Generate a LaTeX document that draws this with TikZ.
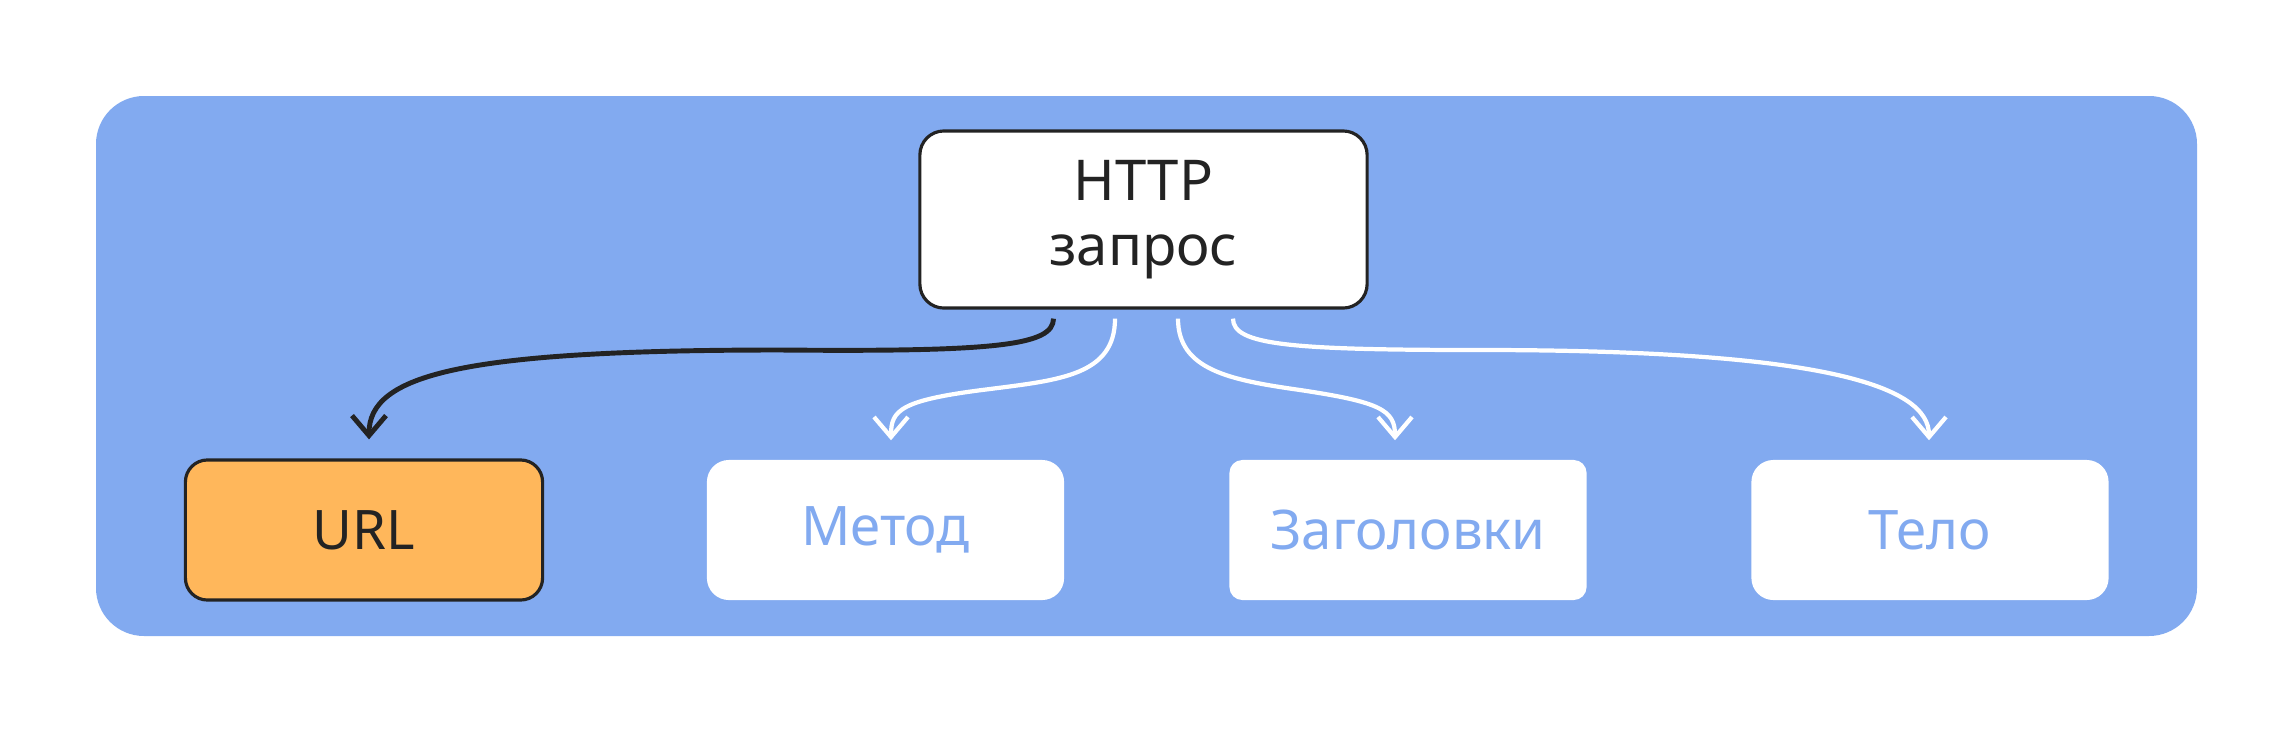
\documentclass[tikz,border=0pt]{standalone}
\usepackage{fontspec}
\setmainfont{Noto Sans}
\usetikzlibrary{arrows.meta,calc}
\definecolor{panelblue}{HTML}{82AAF0}
\definecolor{urlorange}{HTML}{FFB75B}
\definecolor{inkdark}{HTML}{232323}

\begin{document}
\begin{tikzpicture}[x=0.01cm,y=-0.01cm,
    part/.style={rounded corners=0.22cm,fill=white,text=panelblue,
        minimum width=3.57cm,minimum height=1.4cm,inner sep=0pt,
        font=\fontsize{15.5}{19}\selectfont},
    link/.style={line width=1.2pt,white,
        -{Straight Barb[length=0.2cm,width=0.34cm]}}]
\useasboundingbox (0,0) rectangle (2293,733);
\fill[white] (0,0) rectangle (2293,733);
\fill[panelblue,rounded corners=0.48cm] (96,96) rectangle (2197,636);

\node [draw=inkdark,line width=0.9pt,fill=white,rounded corners=0.24cm,
    minimum width=4.47cm,minimum height=1.77cm,align=center,text=inkdark,
    font=\fontsize{16}{18.5}\selectfont] (http) at (1143.5,219.5) {HTTP\\запрос};

\node [part,draw=inkdark,line width=0.9pt,fill=urlorange,text=inkdark] (url) at (364,530) {URL};
\node [part] (method)  at (885.5,530) {Метод};
\node [part,rounded corners=0.13cm] (headers) at (1408,530) {Заголовки};
\node [part] (body)    at (1930,530) {Тело};

\draw [link,inkdark,line width=1.4pt] ($(http.south)+(-90,9)$)
    .. controls (1053,345) and (1000,352) .. (780,350)
    .. controls (460,350) and (369,375) .. ($(url.north)+(5,-19)$);
\draw [link] ($(http.south)+(-28.5,9)$)
    .. controls (1115,375) and (1060,380) .. (990,389)
    .. controls (900,400) and (891,410) .. ($(method.north)+(5.5,-19)$);
\draw [link] ($(http.south)+(34.5,9)$)
    .. controls (1178,370) and (1230,380) .. (1300,390)
    .. controls (1380,402) and (1395,410) .. ($(headers.north)+(-13,-19)$);
\draw [link] ($(http.south)+(89.5,9)$)
    .. controls (1233,345) and (1290,350) .. (1480,350)
    .. controls (1820,350) and (1929,385) .. ($(body.north)+(-1,-19)$);
\end{tikzpicture}
\end{document}
